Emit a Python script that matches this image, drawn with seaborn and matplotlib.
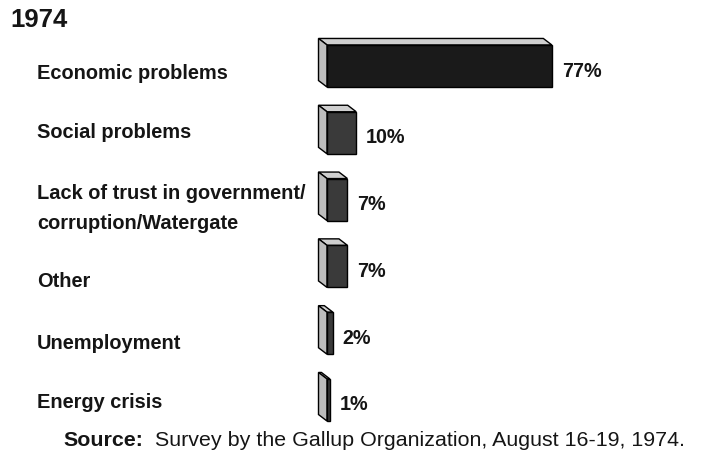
import matplotlib
matplotlib.use("Agg")
import matplotlib.pyplot as plt
from matplotlib.patches import Polygon
from matplotlib.transforms import offset_copy, blended_transform_factory
import seaborn as sns
import pandas as pd

# Most important problem facing the country, 1974
categories = [
    "Economic problems",
    "Social problems",
    "Lack of trust in government/\ncorruption/Watergate",
    "Other",
    "Unemployment",
    "Energy crisis",
]
percent = [77, 10, 7, 7, 2, 1]
title = "1974"
source_label = "Source:"
source_text = "Survey by the Gallup Organization, August 16-19, 1974."

df = pd.DataFrame({"category": categories, "percent": percent})

# front-face shades
front_colors = ["#1a1a1a", "#3a3a3a", "#3a3a3a", "#3a3a3a", "#3a3a3a", "#3a3a3a"]
side_color = "#bdbdbd"
top_color = "#cfcfcf"
ink = "#151515"

# downward nudge (px) of each category label relative to its bar centre
label_nudge = [7, 0, 9, 15, 10, 3]

sns.set_theme(style="white")
plt.rcParams["font.family"] = ["Liberation Sans", "DejaVu Sans"]

W, H = 702, 458
fig = plt.figure(figsize=(W / 100, H / 100), dpi=100)
fig.patch.set_facecolor("white")

# axes: x=0 at 327 px, 2.92 px per percent; 6 rows of ~66.8 px
px_per_pct = 2.92
row_px = 66.8
ax_left, ax_w = 327, 100 * px_per_pct
ax_top = 66 - row_px / 2
ax_h = 6 * row_px
ax = fig.add_axes([ax_left / W, 1 - (ax_top + ax_h) / H, ax_w / W, ax_h / H])

sns.barplot(data=df, x="percent", y="category", hue="category",
            palette=front_colors, orient="h", width=0.63, legend=False,
            edgecolor="black", linewidth=1.0, saturation=1, ax=ax)
ax.set_xlim(0, 100)
ax.set_ylim(5.5, -0.5)
ax.axis("off")

# oblique depth of each bar (towards upper-left)
dx = -8.5 / px_per_pct
dy = -6.5 / row_px
for p in ax.patches:
    x0, y0 = p.get_x(), p.get_y()
    w, h = p.get_width(), p.get_height()
    yt, yb = y0, y0 + h
    top = Polygon([(x0, yt), (x0 + w, yt), (x0 + w + dx, yt + dy), (x0 + dx, yt + dy)],
                  closed=True, facecolor=top_color, edgecolor="black",
                  linewidth=1.0, clip_on=False, zorder=3)
    side = Polygon([(x0, yt), (x0 + dx, yt + dy), (x0 + dx, yb + dy), (x0, yb)],
                   closed=True, facecolor=side_color, edgecolor="black",
                   linewidth=1.0, clip_on=False, zorder=3)
    ax.add_patch(top)
    ax.add_patch(side)
    p.set_zorder(4)
    p.set_clip_on(False)

# category labels on the left
base_tr = blended_transform_factory(fig.transFigure, ax.transData)
for i, name in enumerate(categories):
    tr = offset_copy(base_tr, fig=fig, x=0, y=-label_nudge[i], units="dots")
    ax.text(37 / W, i, name, transform=tr, ha="left", va="center",
            fontsize=14.4, fontweight="bold", color=ink, linespacing=1.75)

# value labels after each bar
val_tr = offset_copy(ax.transData, fig=fig, x=10, y=-5, units="dots")
for i, v in enumerate(percent):
    ax.text(v, i, f"{v}%", transform=val_tr, ha="left", va="center",
            fontsize=14.2, fontweight="bold", color=ink)

fig.text(10 / W, 1 - 20 / H, title, ha="left", va="center",
         fontsize=18.5, fontweight="bold", color=ink)

src = fig.text(63 / W, 1 - 441 / H, source_label, ha="left", va="center",
               fontsize=15.4, fontweight="bold", color=ink)
ax.annotate(source_text, xy=(1, 0.5), xycoords=src, xytext=(9, 0),
            textcoords="offset points", ha="left", va="center",
            fontsize=15.4, color=ink, annotation_clip=False)

fig.savefig("out.png", dpi=100, facecolor="white")
